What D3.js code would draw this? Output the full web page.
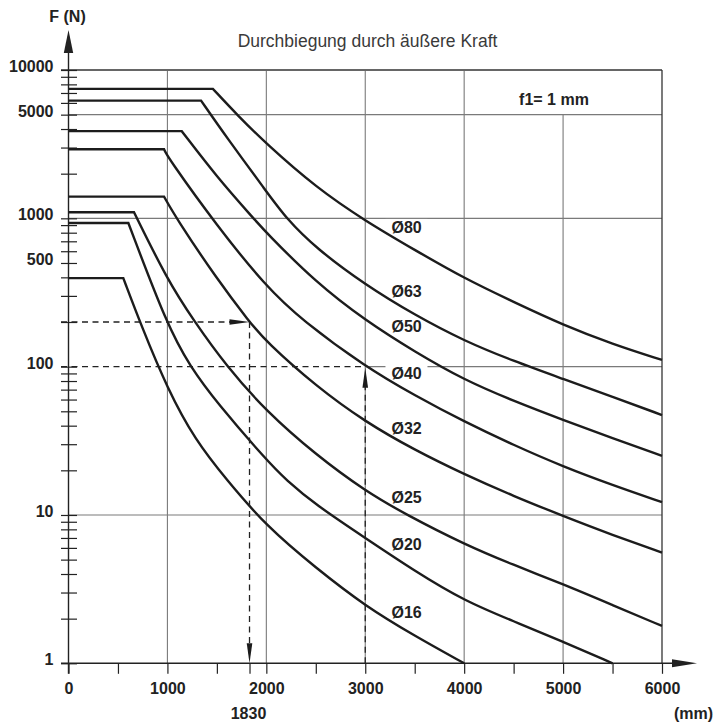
<!DOCTYPE html>
<html>
<head>
<meta charset="utf-8">
<script src="https://cdn.jsdelivr.net/npm/d3@7"></script>
<style>
  body { margin: 0; background: #fff; }
  svg { display: block; font-family: "Liberation Sans", Arial, sans-serif; }
  .grid { stroke: #7a7a7a; stroke-width: 1.1; }
  .frame { stroke: #333; stroke-width: 1.3; }
  .curve { fill: none; stroke: #1c1c1c; stroke-width: 2.4; stroke-linejoin: miter; }
  .dash { fill: none; stroke: #222; stroke-width: 1.3; stroke-dasharray: 6 4.5; }
  .lbl { font-weight: bold; font-size: 16px; fill: #222; }
  .tick line { stroke: #222; stroke-width: 1.2; }
  .tick text { font-weight: bold; font-size: 16px; fill: #222; font-family: "Liberation Sans", Arial, sans-serif; }
</style>
</head>
<body>
<svg width="714" height="722"></svg>
<script>
// piston rod diameters, top curve first
var diameters = ["Ø80", "Ø63", "Ø50", "Ø40", "Ø32", "Ø25", "Ø20", "Ø16"];

// [length mm, force N]; first point = end of the flat part that starts at 0 mm
var d80 = [[1460,7460],[1715,4900],[2000,3180],[2500,1620],[3000,960],[3500,612],[4000,394],[4500,273],[5000,191],[5500,142],[6000,111]];
var d63 = [[1340,6220],[1600,3500],[2000,1520],[2200,1000],[2500,630],[3000,356],[3500,223],[4000,149],[4500,109],[5000,82.6],[5500,62.5],[6000,47.2]];
var d50 = [[1145,3870],[1500,1900],[1870,1000],[2000,800],[2500,370],[3000,205],[3500,126],[4000,81.3],[4500,58.7],[5000,43.7],[5500,33],[6000,25]];
var d40 = [[966,2920],[1000,2600],[1500,890],[2000,345],[2360,206],[3000,100],[3500,64],[4000,42.6],[4500,29.6],[5000,21.2],[5500,15.9],[6000,12.2]];
var d32 = [[966,1400],[1090,1000],[1500,390],[1830,200],[2000,147],[2500,74],[3000,42.4],[3500,27.4],[4000,18.8],[4500,13.4],[5000,9.85],[5500,7.33],[6000,5.57]];
var d25 = [[662,1100],[1000,384],[1262,206],[1600,100],[2000,50],[2500,25.5],[3000,14.5],[3420,10],[4000,6.35],[4500,4.6],[5000,3.42],[5500,2.47],[6000,1.785]];
var d20 = [[605,930],[1000,188],[1230,100],[1500,57],[2000,23.5],[2200,17.2],[2500,11.7],[3000,7.0],[3500,4.19],[4000,2.64],[4500,1.92],[5000,1.4],[5500,1]];
var d16 = [[554,395],[740,186],[1000,71],[1280,32],[1600,17.2],[2000,8.4],[2500,4.4],[3000,2.43],[3500,1.53],[4000,1]];
var curves = [d80, d63, d50, d40, d32, d25, d20, d16];

var yLabels = [1, 10, 100, 500, 1000, 5000, 10000];
var xLabels = [0, 1000, 2000, 3000, 4000, 5000, 6000];
var xTicks = [0, 500, 1000, 1500, 1830, 2000, 2500, 3000, 3500, 4000, 4500, 5000, 5500, 6000];
var xGrid = [1000, 2000, 3000, 4000, 5000];
var yGrid = [10, 1000, 5000];

// reading examples: length, force
var readLen = [1830, 3000];
var readForce = [200, 100];

var svg = d3.select("svg");

var x = d3.scaleLinear().domain([0, 6000]).range([68.5, 662]),
    y = d3.scaleLog().domain([1, 10000]).range([663.3, 70]);

var x0 = x(0), y0 = y(1);

// grid
var grid = svg.append("g");
xGrid.forEach(function(v) {
  grid.append("line").attr("class", "grid")
    .attr("x1", x(v)).attr("x2", x(v))
    .attr("y1", v == 5000 ? y(5000) : y(10000) + 1).attr("y2", y0);
});
yGrid.forEach(function(v) {
  grid.append("line").attr("class", "grid")
    .attr("x1", x0).attr("x2", x(6000))
    .attr("y1", y(v)).attr("y2", y(v));
});
grid.append("line").attr("class", "grid")
  .attr("x1", x(3000)).attr("x2", x(6000))
  .attr("y1", y(100)).attr("y2", y(100));

// frame top and right
svg.append("line").attr("class", "frame")
  .attr("x1", x0 - 7.5).attr("x2", x(6000)).attr("y1", y(10000)).attr("y2", y(10000));
svg.append("line").attr("class", "frame")
  .attr("x1", x(6000)).attr("x2", x(6000)).attr("y1", y(10000)).attr("y2", y0);

// white boxes behind curve labels (they break the grid lines)
var labelX = x(3265);
function labelY(c) {
  var p = c.filter(function(d) { return d[0] == 3000; })[0];
  return y(p[1]) + 12;
}
svg.selectAll(".lblbox")
  .data(curves)
  .enter().append("rect")
    .attr("x", labelX - 6).attr("y", function(d) { return labelY(d) - 14; })
    .attr("width", 42).attr("height", 17)
    .attr("fill", "#fff");

// y axis
var yAxis = svg.append("g")
  .attr("transform", "translate(" + x0 + ",0)")
  .call(d3.axisLeft(y)
    .tickValues(y.ticks())
    .tickSize(7.5)
    .tickPadding(7.5)
    .tickFormat(function(d) { return yLabels.indexOf(d) >= 0 ? d : ""; }));
yAxis.select(".domain").remove();
yAxis.selectAll(".tick line").attr("x1", 8.5);
yAxis.selectAll(".tick text").attr("dy", "0.1em");

// x axis
var xAxis = svg.append("g")
  .attr("transform", "translate(0," + y0 + ")")
  .call(d3.axisBottom(x)
    .tickValues(xTicks)
    .tickSize(10.5)
    .tickPadding(8.8)
    .tickFormat(function(d) { return xLabels.indexOf(d) >= 0 ? d : ""; }));
xAxis.select(".domain").remove();

// axis lines with arrows
svg.append("line").attr("stroke", "#222").attr("stroke-width", 1.4)
  .attr("x1", x0).attr("x2", x0).attr("y1", y0 + 10.5).attr("y2", 40);
svg.append("path").attr("fill", "#222")
  .attr("d", "M" + x0 + ",30 L" + (x0 - 4.7) + ",53 L" + (x0 + 4.7) + ",53 Z");
svg.append("line").attr("stroke", "#222").attr("stroke-width", 1.4)
  .attr("x1", x0 - 7.5).attr("x2", 688).attr("y1", y0).attr("y2", y0);
svg.append("path").attr("fill", "#222")
  .attr("d", "M697," + y0 + " L672," + (y0 - 4) + " L672," + (y0 + 4) + " Z");

// curves: straight flat part, then smooth descent
var descent = d3.line()
  .x(function(d) { return x(d[0]); })
  .y(function(d) { return y(d[1]); })
  .curve(d3.curveBasis);

svg.selectAll(".curve")
  .data(curves)
  .enter().append("path")
    .attr("class", "curve")
    .attr("d", function(c) {
      return "M" + x0 + "," + y(c[0][1]) + descent(c).replace(/^M/, "L");
    });

// reading examples (dashed)
var ex1x = x(readLen[0]), ex1y = y(readForce[0]);
var ex2x = x(readLen[1]), ex2y = y(readForce[1]);
svg.append("path").attr("class", "dash")
  .attr("d", "M" + (x0 - 7.5) + "," + ex1y + " H" + (ex1x - 19));
svg.append("path").attr("class", "dash")
  .attr("d", "M" + ex1x + "," + ex1y + " V" + (y0 - 20));
svg.append("path").attr("class", "dash")
  .attr("d", "M" + (x0 - 7.5) + "," + ex2y + " H" + ex2x);
svg.append("path").attr("class", "dash")
  .attr("d", "M" + ex2x + "," + y0 + " V" + (ex2y + 20));

function arrow(tx, ty, dir) {
  var l = 20, h = 2.8, d;
  if (dir == "right") d = "M" + tx + "," + ty + " L" + (tx - l) + "," + (ty - h) + " L" + (tx - l) + "," + (ty + h) + " Z";
  if (dir == "down") d = "M" + tx + "," + ty + " L" + (tx - h) + "," + (ty - l) + " L" + (tx + h) + "," + (ty - l) + " Z";
  if (dir == "up") d = "M" + tx + "," + ty + " L" + (tx - h) + "," + (ty + l) + " L" + (tx + h) + "," + (ty + l) + " Z";
  svg.append("path").attr("fill", "#1c1c1c").attr("d", d);
}
arrow(ex1x, ex1y, "right");
arrow(ex1x, y0, "down");
arrow(ex2x, ex2y + 1, "up");

// curve labels
svg.selectAll(".dlabel")
  .data(curves)
  .enter().append("text")
    .attr("class", "lbl")
    .attr("font-size", "15px")
    .attr("x", labelX)
    .attr("y", function(d) { return labelY(d); })
    .text(function(d, i) { return diameters[i]; });

// texts
svg.append("text").attr("class", "lbl")
  .attr("x", x0 - 1).attr("y", 21.5).attr("text-anchor", "middle").text("F (N)");
svg.append("text")
  .attr("x", 367.5).attr("y", 46.5).attr("text-anchor", "middle")
  .attr("font-size", "17.5px").attr("fill", "#3a3a3a")
  .text("Durchbiegung durch äußere Kraft");
svg.append("text").attr("class", "lbl")
  .attr("x", 554).attr("y", 105).attr("text-anchor", "middle").text("f1= 1 mm");
svg.append("text").attr("class", "lbl")
  .attr("x", ex1x - 1).attr("y", 719).attr("text-anchor", "middle").text(readLen[0]);
svg.append("text").attr("class", "lbl")
  .attr("x", 713).attr("y", 719).attr("text-anchor", "end").text("(mm)");
</script>
</body>
</html>
